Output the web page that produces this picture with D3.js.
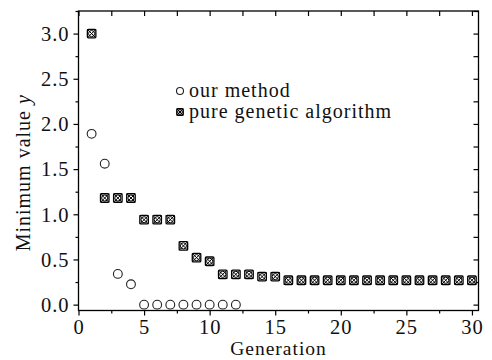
<!DOCTYPE html>
<html>
<head>
<meta charset="utf-8">
<script src="https://cdn.jsdelivr.net/npm/d3@7"></script>
<style>
  body { margin: 0; background: #fff; }
  svg { display: block; }
  text { font-family: "Liberation Serif", "Times New Roman", serif; fill: #111; }
</style>
</head>
<body>
<svg id="chart" width="492" height="360"></svg>
<script>
// values
const ourGen = [1, 2, 3, 4, 5, 6, 7, 8, 9, 10, 11, 12];
const ourVal = [1.89, 1.56, 0.34, 0.225, 0, 0, 0, 0, 0, 0, 0, 0];

const gaGen = d3.range(1, 31);
const gaVal = [3.0, 1.18, 1.18, 1.18, 0.94, 0.94, 0.94, 0.65, 0.52, 0.48,
  0.335, 0.335, 0.335, 0.31, 0.31, 0.27, 0.27, 0.27, 0.27, 0.27,
  0.27, 0.27, 0.27, 0.27, 0.27, 0.27, 0.27, 0.27, 0.27, 0.27];

const xTicks = [0, 5, 10, 15, 20, 25, 30];
const yTicks = [0.0, 0.5, 1.0, 1.5, 2.0, 2.5, 3.0];
const legendNames = ["our method", "pure genetic algorithm"];

const svg = d3.select("#chart");
const m = { left: 78.5, right: 478.5, top: 11, bottom: 310.5 };

const x = d3.scaleLinear().domain([0, 30.5]).range([m.left, m.right]);
const y = d3.scaleLinear().domain([-0.065, 3.25]).range([m.bottom, m.top]);

const minorX = d3.range(0, 30.5, 2.5);
const minorY = d3.range(0, 3.26, 0.25);

// frame
svg.append("rect")
  .attr("x", m.left).attr("y", m.top)
  .attr("width", m.right - m.left).attr("height", m.bottom - m.top)
  .attr("fill", "none").attr("stroke", "#000").attr("stroke-width", 1.3);

// bottom axis (outward ticks)
const bottom = svg.append("g").attr("transform", `translate(0,${m.bottom})`);
bottom.call(d3.axisBottom(x).tickValues(xTicks).tickSize(5).tickFormat(d3.format("d")));
bottom.append("g").call(d3.axisBottom(x).tickValues(minorX.filter(v => v % 5)).tickSize(3).tickFormat(""));
// left axis
const left = svg.append("g").attr("transform", `translate(${m.left},0)`);
left.call(d3.axisLeft(y).tickValues(yTicks).tickSize(5).tickFormat(d3.format(".1f")));
left.append("g").call(d3.axisLeft(y).tickValues(minorY.filter(v => Math.round(v * 4) % 2)).tickSize(3).tickFormat(""));
// top and right: ticks inward
svg.append("g").attr("transform", `translate(0,${m.top})`)
  .call(d3.axisBottom(x).tickValues(minorX).tickSize(5).tickFormat(""));
svg.append("g").attr("transform", `translate(${m.right},0)`)
  .call(d3.axisLeft(y).tickValues(minorY).tickSize(5).tickFormat(""));

svg.selectAll("g").attr("font-family", null);
svg.selectAll(".domain").remove();
svg.selectAll(".tick line").attr("stroke", "#000").attr("stroke-width", 1.2);
bottom.selectAll(".tick text").attr("font-size", 20.5).attr("letter-spacing", 1)
  .attr("dy", "0.9em").attr("y", 5);
left.selectAll(".tick text").attr("font-size", 20.5).attr("letter-spacing", 1)
  .attr("dy", "0.33em").attr("x", -9);

// axis titles
svg.append("text")
  .attr("x", (m.left + m.right) / 2).attr("y", 355)
  .attr("text-anchor", "middle").attr("font-size", 19.5).attr("letter-spacing", 1)
  .text("Generation");
svg.append("text")
  .attr("transform", `translate(30,${(m.top + m.bottom) / 2 + 12}) rotate(-90)`)
  .attr("text-anchor", "middle").attr("font-size", 20).attr("letter-spacing", 1)
  .text("Minimum value ")
  .append("tspan").attr("font-style", "italic").text("y");

// marker for the genetic algorithm series
function gaMarker(g, s) {
  const h = s / 2;
  g.append("rect").attr("x", -h).attr("y", -h).attr("width", s).attr("height", s)
    .attr("rx", 1).attr("fill", "#fff").attr("stroke", "#000").attr("stroke-width", 1.3);
  g.append("circle").attr("r", h * 0.72).attr("fill", "none").attr("stroke", "#000").attr("stroke-width", 1);
  g.append("path").attr("d", `M${-h},${-h}L${h},${h}M${-h},${h}L${h},${-h}`)
    .attr("stroke", "#000").attr("stroke-width", 1);
}

// series
svg.append("g").selectAll("circle")
  .data(ourGen.map((g, i) => [g, ourVal[i]]))
  .join("circle")
  .attr("cx", d => x(d[0])).attr("cy", d => y(d[1]))
  .attr("r", 4.4).attr("fill", "none").attr("stroke", "#222").attr("stroke-width", 1.1);

svg.append("g").selectAll("g")
  .data(gaGen.map((g, i) => [g, gaVal[i]]))
  .join("g")
  .attr("transform", d => `translate(${x(d[0])},${y(d[1])})`)
  .each(function () { gaMarker(d3.select(this), 8.5); });

// legend
const leg = svg.append("g").attr("transform", "translate(180,91)");
leg.append("circle").attr("r", 3.5).attr("fill", "none").attr("stroke", "#222").attr("stroke-width", 1.1);
gaMarker(leg.append("g").attr("transform", "translate(0,21)"), 6.5);
leg.selectAll("text").data(legendNames).join("text")
  .attr("x", 9).attr("y", (d, i) => i * 21 + 5.5)
  .attr("font-size", 20).attr("letter-spacing", 1)
  .text(d => d);
</script>
</body>
</html>
